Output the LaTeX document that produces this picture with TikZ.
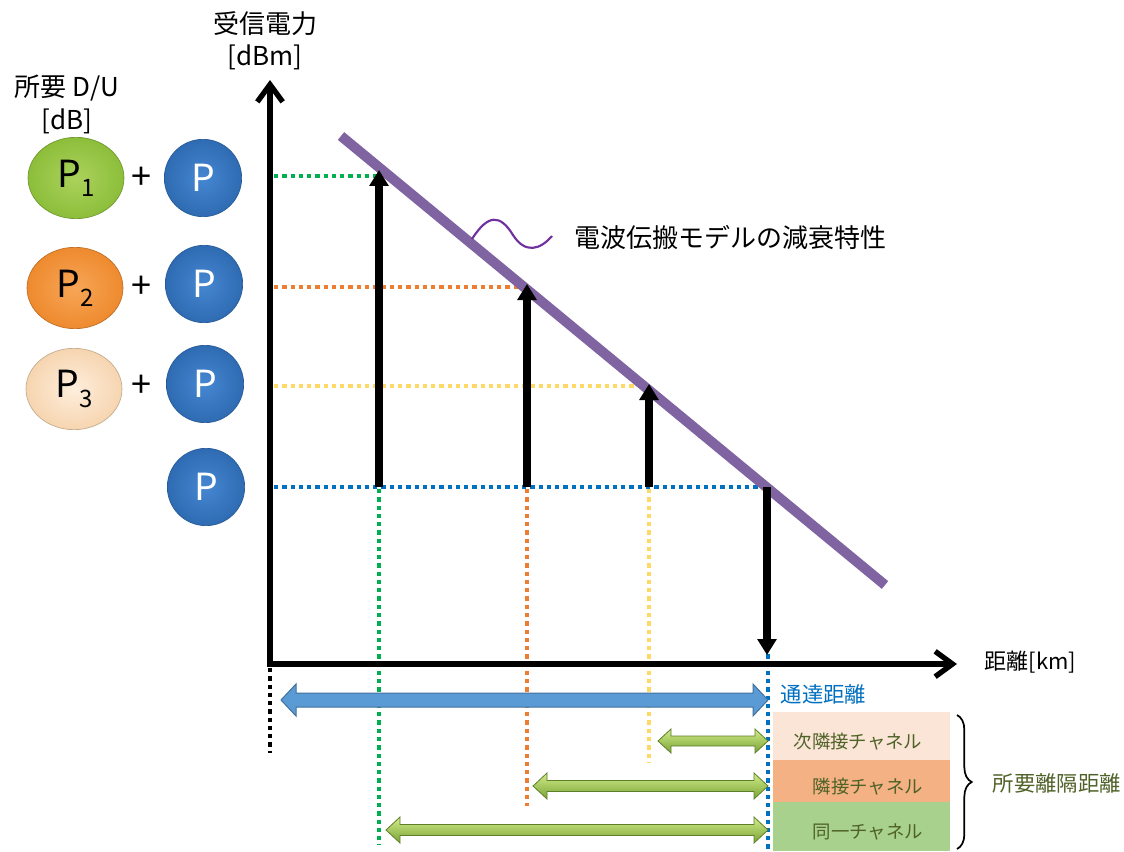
\documentclass[tikz,border=0pt]{standalone}
\usepackage{fontspec}
\setmainfont{Noto Sans CJK JP}
\usetikzlibrary{arrows.meta,decorations.pathreplacing,shadings,shapes.geometric}
\definecolor{purp}{HTML}{8064A2}
\definecolor{wavec}{HTML}{7030A0}
\definecolor{dgreen}{HTML}{00B050}
\definecolor{dorange}{HTML}{ED7D31}
\definecolor{dyellow}{HTML}{FFD966}
\definecolor{dblue}{HTML}{0070C0}
\definecolor{arrblue}{HTML}{5B9BD5}
\definecolor{arrblueedge}{HTML}{41719C}
\definecolor{limetop}{HTML}{D2EC8A}
\definecolor{limebot}{HTML}{79A335}
\definecolor{limeedge}{HTML}{5E7F2A}
\definecolor{boxA}{HTML}{FBE5D6}
\definecolor{boxB}{HTML}{F4B183}
\definecolor{boxC}{HTML}{A9D18E}
\definecolor{olive}{HTML}{4F6228}
\definecolor{ballG}{HTML}{8CBE3A}
\definecolor{ballGin}{HTML}{ABD25C}
\definecolor{ballO}{HTML}{EE8A2E}
\definecolor{ballOin}{HTML}{F7A657}
\definecolor{ballPe}{HTML}{F6D5B0}
\definecolor{ballPein}{HTML}{FEEEDC}
\definecolor{ballB}{HTML}{2E6BB2}
\definecolor{ballBin}{HTML}{4687D2}
\newcommand\dblarrow[7]{\draw[#7] (#1,#3) -- (#1+#4,#3-#5) -- (#1+#4,#3-#6) -- (#2-#4,#3-#6) -- (#2-#4,#3-#5) -- (#2,#3) -- (#2-#4,#3+#5) -- (#2-#4,#3+#6) -- (#1+#4,#3+#6) -- (#1+#4,#3+#5) -- cycle;}
\newcommand\fs[1]{\fontsize{#1}{#1}\selectfont}
\tikzset{
  axisline/.style={line width=4.5pt, -{Straight Barb[length=13pt,width=19pt,line width=4pt]}},
  dotline/.style={line width=3.2pt, dash pattern=on 3.2pt off 3pt},
  upar/.style={line width=5.5pt, -{Triangle[length=12pt,width=14pt]}},
  ballP/.style={circle, minimum size=58pt, inner sep=0pt, text=white, font=\fs{28}, inner color=ballBin, outer color=ballB, draw=ballB!85!black, line width=0.5pt},
  ballL/.style={ellipse, minimum width=72pt, minimum height=61pt, inner sep=0pt, text=black, font=\fs{28}, line width=0.5pt},
  lbl/.style={font=\fs{19.5}},
  boxtxt/.style={font=\fs{13.8}, text=olive},
  greenarr/.style={top color=limetop, bottom color=limebot, draw=limeedge, line width=0.6pt},
  bluearr/.style={fill=arrblue, draw=arrblueedge, line width=0.75pt}
}
\begin{document}
\begin{tikzpicture}[x=0.75pt,y=-0.75pt]
\fill[white] (0,0) rectangle (1124,852);
\useasboundingbox (0,0) rectangle (1124,852);

% coordinates
\coordinate (O) at (270,664);
\coordinate (Ytip) at (270,80);
\coordinate (Xtip) at (957,664);
\coordinate (A1) at (379,487);
\coordinate (A2) at (527,487);
\coordinate (A3) at (649,487);
\coordinate (A4) at (767,487);
\coordinate (T1) at (379,170);
\coordinate (T2) at (527,284);
\coordinate (T3) at (649,384);
\coordinate (D4) at (767,655);
\coordinate (W0) at (472,239);
\coordinate (W1) at (513,235);
\coordinate (W2) at (552,236);

% boxes
\fill[boxA] (773,712) rectangle (950,760);
\fill[boxB] (773,760) rectangle (950,802);
\fill[boxC] (773,802) rectangle (950,851);
\node[boxtxt] (b1) at (858,742) {次隣接チャネル};
\node[boxtxt] (b2) at (868,787) {隣接チャネル};
\node[boxtxt] (b3) at (868,832) {同一チャネル};

% dotted lines horizontal
\draw[dotline, dgreen] (274,176) -- (381,176);
\draw[dotline, dorange] (274,287) -- (527,287);
\draw[dotline, dyellow] (274,386) -- (649,386);
\draw[dotline, dblue] (274,487) -- (767,487);
% dotted lines vertical
\draw[dotline, dgreen] (379,489) -- (379,845);
\draw[dotline, dorange] (527,489) -- (527,806);
\draw[dotline, dyellow] (649,489) -- (649,763);
\draw[dotline, dblue] (768,489) -- (768,852);
\draw[dotline, black] (270,668) -- (270,753);

% purple line
\draw[purp, line width=7.5pt] (341,136) -- (885,585);
\draw[wavec, line width=1.6pt] (W0) .. controls (488,214) and (500,214) .. (W1) .. controls (525,254) and (540,250) .. (W2);
\node[lbl, anchor=west] (model) at (570,238) {電波伝搬モデルの減衰特性};

% axes
\draw[axisline] (O) -- (Ytip);
\draw[axisline] (267,664) -- (Xtip);
\node[font=\fs{16.5}, anchor=west] (xl) at (980,662) {距離[km]};
\node[lbl] (yl1) at (265,24) {受信電力};
\node[lbl] (yl2) at (265,57) {[dBm]};
\node[lbl] (dl1) at (67,88) {所要 D/U};
\node[lbl] (dl2) at (67,121) {[dB]};

% black arrows
\draw[upar] (A1) -- (T1);
\draw[upar] (A2) -- (T2);
\draw[upar] (A3) -- (T3);
\draw[upar] (A4) -- (D4);

% horizontal double arrows
\dblarrow{281}{768}{700}{15}{16}{7}{bluearr}
\dblarrow{658}{768}{741}{13}{12}{5}{greenarr}
\dblarrow{533}{768}{786}{14}{13}{5.5}{greenarr}
\dblarrow{386}{768}{830}{14}{13}{5.5}{greenarr}
\node[font=\fs{16}, text=dblue, anchor=west] (tt) at (776,694) {通達距離};

% brace
\draw[line width=1.3pt, decorate, decoration={brace, amplitude=11pt}] (957,715) -- (957,849);
\node[font=\fs{16}, text=olive, anchor=west] (sr) at (988,783) {所要離隔距離};

% balls
\node[ballL, inner color=ballGin, outer color=ballG, draw=ballG!80!black] (P1) at (76,178) {P\raisebox{-0.25em}{\fs{18}1}};
\node[ballL, inner color=ballOin, outer color=ballO, draw=ballO!80!black] (P2) at (75,288) {P\raisebox{-0.25em}{\fs{18}2}};
\node[ballL, inner color=ballPein, outer color=ballPe, draw=ballPe!80!black] (P3) at (74,389) {P\raisebox{-0.25em}{\fs{18}3}};
\node[font=\fs{27}] (pl1) at (141,178) {+};
\node[font=\fs{27}] (pl2) at (141,287) {+};
\node[font=\fs{27}] (pl3) at (141,386) {+};
\node[ballP] (B1) at (203,178) {P};
\node[ballP] (B2) at (204,284) {P};
\node[ballP] (B3) at (205,384) {P};
\node[ballP] (B4) at (206,487) {P};
\end{tikzpicture}
\end{document}
